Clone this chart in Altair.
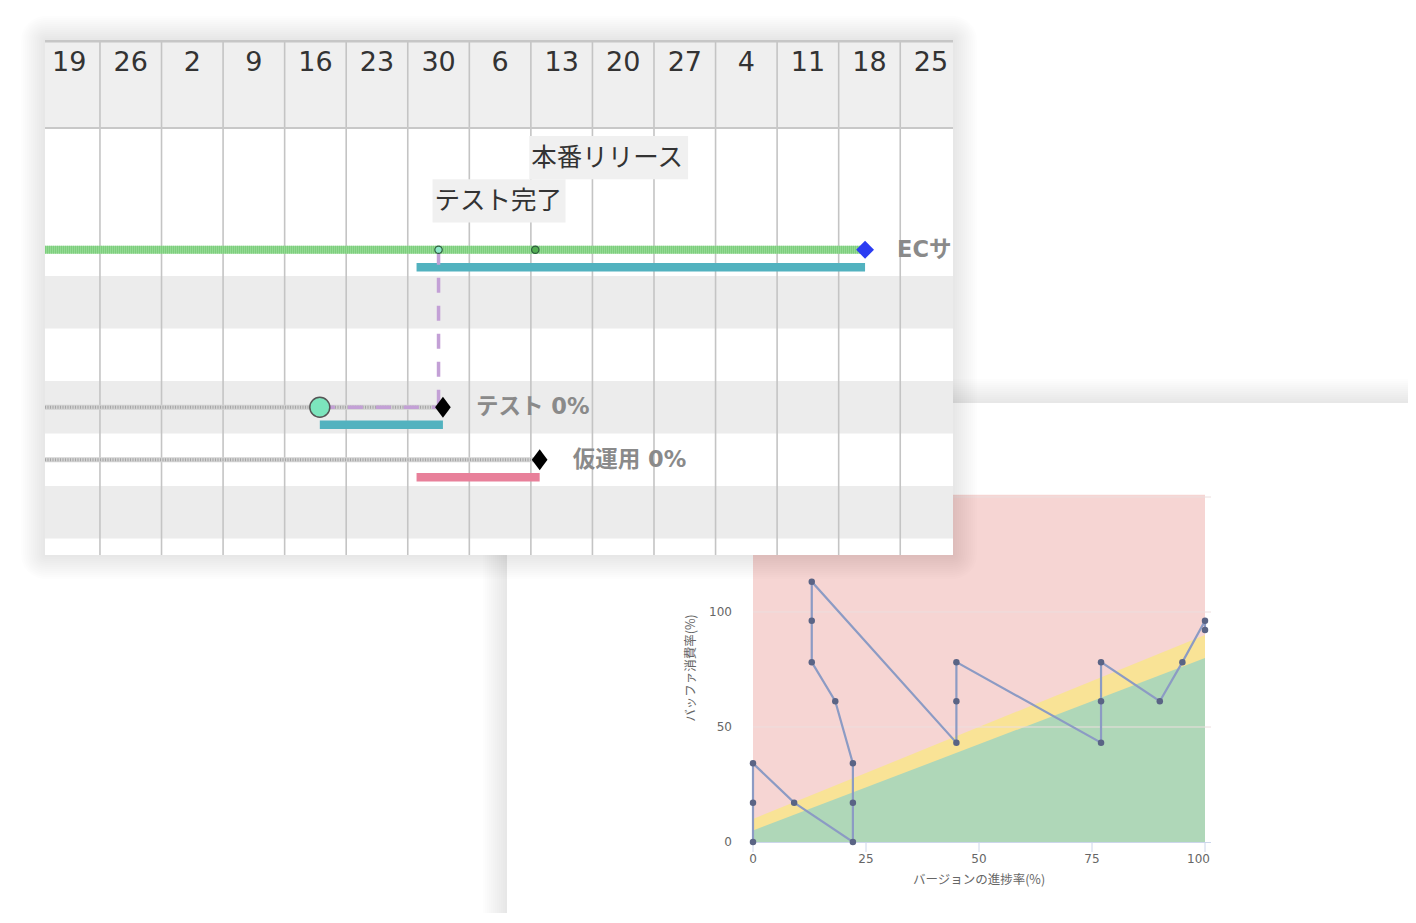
import altair as alt
import pandas as pd

# ======================= DATA =======================
# ---- Gantt panel ----
week_start = ["2021-07-19", "2021-07-26", "2021-08-02", "2021-08-09", "2021-08-16",
              "2021-08-23", "2021-08-30", "2021-09-06", "2021-09-13", "2021-09-20",
              "2021-09-27", "2021-10-04", "2021-10-11", "2021-10-18", "2021-10-25"]
week_label = ["19", "26", "2", "9", "16", "23", "30", "6", "13", "20", "27", "4", "11", "18", "25"]

row_ids = ["EC", "blank1", "blank2", "テスト", "仮運用", "blank3", "blank4"]
shaded_rows = ["blank1", "テスト", "blank3"]

task_row = ["EC", "テスト", "仮運用"]
task_label = ["ECサイト 0%", "テスト 0%", "仮運用 0%"]
task_line_start = ["2021-06-01", "2021-06-01", "2021-06-01"]
task_end = ["2021-10-21", "2021-09-03", "2021-09-14"]
plan_start = ["2021-08-31", "2021-08-20", "2021-08-31"]
plan_end = ["2021-10-21", "2021-09-03", "2021-09-14"]
test_actual_start = "2021-08-20"

milestone_name = ["テスト完了", "本番リリース"]
milestone_date = ["2021-09-02 12:00", "2021-09-13 12:00"]
milestone_row = ["EC", "EC"]
dependency_from = "テスト完了"
dependency_to_row = "テスト"

# ---- Buffer chart ----
progress = [0, 0, 0, 9.1, 22.1, 22.1, 22.1, 18.2, 13, 13, 13, 45, 45, 45, 77, 77, 77, 90, 95, 100, 100]
consumption = [0, 17.1, 34.2, 17.1, 0, 17.1, 34.2, 61.2, 78.2, 96.2, 113.2, 43.2, 61.2, 78.2,
               43.2, 61.2, 78.2, 61.2, 78.2, 96.2, 92.2]
zone_progress = [0, 100]
green_limit = [5, 80]
yellow_limit = [10, 90]
y_top = 151
x_ticks = [0, 25, 50, 75, 100]
y_ticks = [0, 50, 100, 150]

# ======================= TABLES =======================
one = pd.DataFrame({"k": [0]})
weeks = pd.DataFrame({"week": pd.to_datetime(week_start), "label": week_label})
rows_df = pd.DataFrame({"row": row_ids})
shaded_df = rows_df[rows_df["row"].isin(shaded_rows)]
tasks = pd.DataFrame({
    "row": task_row, "label": task_label,
    "line_start": pd.to_datetime(task_line_start), "end": pd.to_datetime(task_end),
    "plan_start": pd.to_datetime(plan_start), "plan_end": pd.to_datetime(plan_end),
})
ms = pd.DataFrame({"name": milestone_name, "date": pd.to_datetime(milestone_date),
                   "row": milestone_row, "lvl": list(range(len(milestone_name)))})
test_row = tasks[tasks["row"] == dependency_to_row].iloc[0]
actual = pd.DataFrame({"row": [dependency_to_row], "start": [pd.to_datetime(test_actual_start)],
                       "end": [test_row["end"]]})
dep = pd.DataFrame({"date": [ms.loc[ms["name"] == dependency_from, "date"].iloc[0]],
                    "from": [milestone_row[0]], "to": [dependency_to_row]})

buf = pd.DataFrame({"i": list(range(len(progress))), "p": progress, "c": consumption})
zones = pd.DataFrame({"x": zone_progress, "g": green_limit, "yl": yellow_limit})
pink = pd.DataFrame({"x0": [zone_progress[0]], "x1": [zone_progress[-1]], "y0": [0], "y1": [y_top]})
xt = pd.DataFrame({"v": x_ticks, "t": [str(v) for v in x_ticks]})
yt = pd.DataFrame({"v": y_ticks, "t": [str(v) for v in y_ticks]})

# ======================= SCALES =======================
T0 = alt.DateTime(year=2021, month=7, date=19, hours=18)
T1 = alt.DateTime(year=2021, month=10, date=31)


def gx(clamp=True):
    return alt.Scale(domain=[T0, T1], range=[37, 945], clamp=clamp)


GY = alt.Scale(type="band", domain=row_ids, range=[215.5, 583], paddingInner=0, paddingOuter=0)
MY = alt.Scale(type="band", domain=[1, 0], range=[128, 214.5], paddingInner=0, paddingOuter=0)
BX = alt.Scale(domain=[0, 100], range=[745, 1197], nice=False, zero=False)
BY = alt.Scale(domain=[0, y_top], range=[834, 486.7], nice=False, zero=False)

LABEL_FONT = "DejaVu Sans, Noto Sans CJK JP"
JP_FONT = "Noto Sans CJK JP"


def box(x0, y0, x1, y1, **mk):
    return alt.Chart(one).mark_rect(**mk).encode(
        x=alt.value(x0), x2=alt.value(x1), y=alt.value(y0), y2=alt.value(y1))


def hline(x0, x1, y, **mk):
    return alt.Chart(one).mark_rule(**mk).encode(
        x=alt.value(x0), x2=alt.value(x1), y=alt.value(y))


def shadow(x0, y0, x1, y1, n=12, step=2, op=0.009):
    return [box(x0 - i * step, y0 - i * step, x1 + i * step, y1 + i * step,
                color="black", opacity=op, cornerRadius=i * step)
            for i in range(n, 0, -1)]


layers = []

# ======================= BUFFER PANEL =======================
layers += shadow(499, 395, 1430, 912, n=12, step=2, op=0.009)
layers.append(box(499, 395, 1430, 912, color="white"))

layers.append(alt.Chart(pink).mark_rect(color="#f6d5d3").encode(
    x=alt.X("x0:Q", scale=BX, axis=None), x2="x1:Q",
    y=alt.Y("y0:Q", scale=BY, axis=None), y2="y1:Q"))
layers.append(alt.Chart(zones).mark_area(color="#f9e396", opacity=1).encode(
    x=alt.X("x:Q", scale=BX, axis=None), y=alt.Y("yl:Q", scale=BY, axis=None), y2=alt.datum(0)))
layers.append(alt.Chart(zones).mark_area(color="#afd7b8", opacity=1).encode(
    x=alt.X("x:Q", scale=BX, axis=None), y=alt.Y("g:Q", scale=BY, axis=None), y2=alt.datum(0)))
# grid lines
layers.append(alt.Chart(yt[yt["v"] > 0]).mark_rule(color="#ecdede", strokeWidth=1).encode(
    x=alt.value(745), x2=alt.value(1203), y=alt.Y("v:Q", scale=BY, axis=None)))
# x axis line & ticks
layers.append(hline(745, 1203, 834.5, color="#ccd6eb", strokeWidth=1))
layers.append(alt.Chart(xt).mark_rule(color="#ccd6eb", strokeWidth=1).encode(
    x=alt.X("v:Q", scale=BX, axis=None), y=alt.value(834), y2=alt.value(844)))
# x labels
layers.append(alt.Chart(xt[xt["v"] < 100]).mark_text(
    font=LABEL_FONT, fontSize=12, color="#666666", baseline="middle", align="center").encode(
    x=alt.X("v:Q", scale=BX, axis=None), y=alt.value(851), text="t:N"))
layers.append(alt.Chart(xt[xt["v"] == 100]).mark_text(
    font=LABEL_FONT, fontSize=12, color="#666666", baseline="middle", align="right", dx=5).encode(
    x=alt.X("v:Q", scale=BX, axis=None), y=alt.value(851), text="t:N"))
# y labels
layers.append(alt.Chart(yt).mark_text(
    font=LABEL_FONT, fontSize=12, color="#666666", baseline="middle", align="right").encode(
    x=alt.value(724), y=alt.Y("v:Q", scale=BY, axis=None), text="t:N"))
# titles
layers.append(alt.Chart(one).mark_text(
    text="バージョンの進捗率(%)", font=JP_FONT, fontSize=12.5, color="#666666",
    baseline="middle", align="center").encode(x=alt.value(971), y=alt.value(872)))
layers.append(alt.Chart(one).mark_text(
    text="バッファ消費率(%)", font=JP_FONT, fontSize=12.5, color="#666666",
    baseline="middle", align="center", angle=270).encode(x=alt.value(683), y=alt.value(660)))
# line + points
layers.append(alt.Chart(buf).mark_line(color="#8c9bc4", strokeWidth=2.2).encode(
    x=alt.X("p:Q", scale=BX, axis=None), y=alt.Y("c:Q", scale=BY, axis=None),
    order=alt.Order("i:Q")))
layers.append(alt.Chart(buf).mark_circle(color="#5a6485", size=42, opacity=1).encode(
    x=alt.X("p:Q", scale=BX, axis=None), y=alt.Y("c:Q", scale=BY, axis=None)))

# ======================= GANTT PANEL =======================
layers += shadow(37, 32, 945, 547, n=12, step=2, op=0.0075)
layers.append(box(37, 32, 945, 547, color="white"))
layers.append(box(37, 32, 945, 120, color="#efefef"))
layers.append(alt.Chart(shaded_df).mark_rect(color="#ececec").encode(
    x=alt.value(37), x2=alt.value(945), y=alt.Y("row:N", scale=GY, axis=None)))
layers.append(alt.Chart(weeks.iloc[1:]).mark_rule(color="#c4c4c4", strokeWidth=1.6).encode(
    x=alt.X("week:T", scale=gx(), axis=None), y=alt.value(32), y2=alt.value(547)))
layers.append(hline(37, 945, 33.2, color="#c6c6c6", strokeWidth=2.5))
layers.append(hline(37, 945, 120, color="#c8c8c8", strokeWidth=2))
layers.append(alt.Chart(weeks).mark_text(
    font="DejaVu Sans", fontSize=27, color="#333333", dx=30.8, baseline="middle", align="center").encode(
    x=alt.X("week:T", scale=gx(False), axis=None), y=alt.value(55), text="label:N"))

# milestone label boxes
for _, m in ms.iterrows():
    w = len(m["name"]) * 25.8 + 4
    sub = ms[ms["name"] == m["name"]]
    layers.append(alt.Chart(sub).mark_rect(color="#f0f0f0", xOffset=-6, x2Offset=w - 6).encode(
        x=alt.X("date:T", scale=gx(), axis=None), x2="date:T",
        y=alt.Y("lvl:O", scale=MY, axis=None)))
layers.append(alt.Chart(ms).mark_text(
    font=JP_FONT, fontSize=25.5, color="#333333", align="left", dx=-4, baseline="middle").encode(
    x=alt.X("date:T", scale=gx(), axis=None), y=alt.Y("lvl:O", scale=MY, axis=None), text="name:N"))

# plan bars
layers.append(alt.Chart(tasks).mark_rule(strokeWidth=8.5, yOffset=17.5).encode(
    x=alt.X("plan_start:T", scale=gx(), axis=None), x2="plan_end:T",
    y=alt.Y("row:N", scale=GY, axis=None),
    color=alt.Color("row:N", scale=alt.Scale(domain=task_row,
                                              range=["#52b2bf", "#52b2bf", "#e8809a"]), legend=None)))
# hatched task lines
ec_tasks = tasks[tasks["row"] == "EC"]
other_tasks = tasks[tasks["row"] != "EC"]
layers.append(alt.Chart(ec_tasks).mark_rule(color="#93da93", strokeWidth=8).encode(
    x=alt.X("line_start:T", scale=gx(), axis=None), x2="end:T", y=alt.Y("row:N", scale=GY, axis=None)))
layers.append(alt.Chart(ec_tasks).mark_rule(color="#6cc46c", strokeWidth=8, strokeDash=[1, 1], opacity=0.55).encode(
    x=alt.X("line_start:T", scale=gx(), axis=None), x2="end:T", y=alt.Y("row:N", scale=GY, axis=None)))
layers.append(alt.Chart(other_tasks).mark_rule(color="#d2d2d2", strokeWidth=5).encode(
    x=alt.X("line_start:T", scale=gx(), axis=None), x2="end:T", y=alt.Y("row:N", scale=GY, axis=None)))
layers.append(alt.Chart(other_tasks).mark_rule(color="#9a9a9a", strokeWidth=3, strokeDash=[1, 1.5], opacity=0.8).encode(
    x=alt.X("line_start:T", scale=gx(), axis=None), x2="end:T", y=alt.Y("row:N", scale=GY, axis=None)))
# purple dashed progress / dependency lines
layers.append(alt.Chart(actual).mark_rule(color="#c3a0d6", strokeWidth=3.5, strokeDash=[15, 13]).encode(
    x=alt.X("start:T", scale=gx(), axis=None), x2="end:T", y=alt.Y("row:N", scale=GY, axis=None)))
layers.append(alt.Chart(dep).mark_rule(color="#c3a0d6", strokeWidth=3.5, strokeDash=[15, 13]).encode(
    x=alt.X("date:T", scale=gx(), axis=None), y=alt.Y("from:N", scale=GY, axis=None), y2="to:N"))

# markers
layers.append(alt.Chart(actual).mark_point(shape="circle", filled=True, size=400, color="#7ce5bd",
                                           stroke="#555555", strokeWidth=1.5, opacity=1).encode(
    x=alt.X("start:T", scale=gx(), axis=None), y=alt.Y("row:N", scale=GY, axis=None)))
layers.append(alt.Chart(ms).mark_point(shape="circle", filled=True, size=55, stroke="#2f5f3f",
                                       strokeWidth=1.2, opacity=1).encode(
    x=alt.X("date:T", scale=gx(), axis=None), y=alt.Y("row:N", scale=GY, axis=None),
    color=alt.Color("name:N", scale=alt.Scale(domain=milestone_name, range=["#8ee8c8", "#52ad52"]),
                    legend=None)))
layers.append(alt.Chart(ec_tasks).mark_point(shape="diamond", filled=True, size=320, color="#2b3cf2",
                                             opacity=1).encode(
    x=alt.X("end:T", scale=gx(), axis=None), y=alt.Y("row:N", scale=GY, axis=None)))
layers.append(alt.Chart(other_tasks).mark_point(shape="M0,-1.15L0.85,0L0,1.15L-0.85,0Z", filled=True,
                                                size=340, color="black", opacity=1).encode(
    x=alt.X("end:T", scale=gx(), axis=None), y=alt.Y("row:N", scale=GY, axis=None)))

# task labels
layers.append(alt.Chart(other_tasks).mark_text(
    font=LABEL_FONT, fontWeight="bold", fontSize=22.5, color="#8a8a8a", align="left", dx=33,
    baseline="middle").encode(
    x=alt.X("end:T", scale=gx(), axis=None), y=alt.Y("row:N", scale=GY, axis=None), text="label:N"))
layers.append(alt.Chart(ec_tasks).mark_text(
    font=LABEL_FONT, fontWeight="bold", fontSize=22.5, color="#8a8a8a", align="left", dx=32,
    baseline="middle", limit=64, ellipsis=" ").encode(
    x=alt.X("end:T", scale=gx(), axis=None), y=alt.Y("row:N", scale=GY, axis=None), text="label:N"))

chart = alt.layer(*layers).resolve_scale(
    x="independent", y="independent", color="independent"
).properties(
    width=1400, height=905, padding=0, background="white",
    autosize=alt.AutoSizeParams(type="none"),
).configure_view(stroke=None)

chart.save("out.html", embed_options={"renderer": "svg", "actions": False})
